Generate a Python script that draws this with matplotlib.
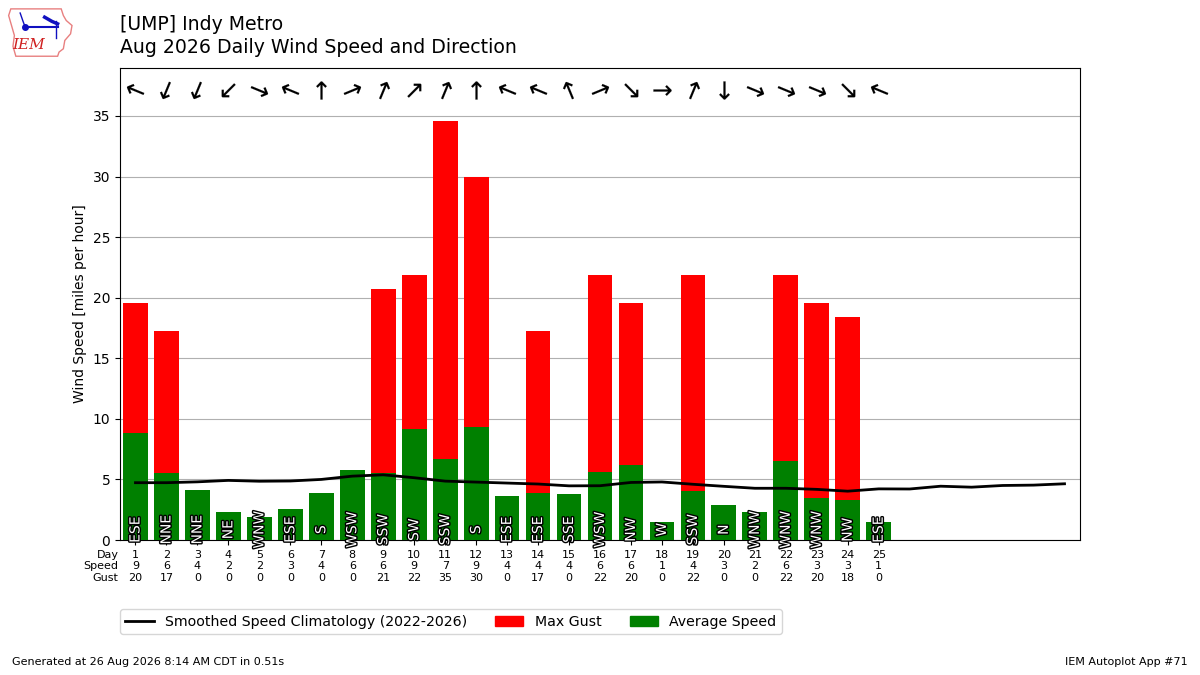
import matplotlib
matplotlib.use("Agg")
import matplotlib.pyplot as plt
import matplotlib.patheffects as pe
from matplotlib.lines import Line2D
from matplotlib.patches import Patch, Polygon
from matplotlib.markers import MarkerStyle
from matplotlib.transforms import Affine2D
import numpy as np

days = list(range(1, 26))
avg_speed = [8.8, 5.5, 4.1, 2.3, 1.9, 2.6, 3.9, 5.8, 5.55, 9.15, 6.7, 9.3, 3.6,
             3.85, 3.8, 5.65, 6.15, 1.5, 4.05, 2.9, 2.3, 6.5, 3.45, 3.3, 1.5]
max_gust = [19.55, 17.25, 0, 0, 0, 0, 0, 0, 20.7, 21.9, 34.6, 29.95, 0,
            17.25, 0, 21.9, 19.55, 0, 21.9, 0, 0, 21.9, 19.55, 18.4, 0]
directions = ["ESE", "NNE", "NNE", "NE", "WNW", "ESE", "S", "WSW", "SSW", "SW",
              "SSW", "S", "ESE", "ESE", "SSE", "WSW", "NW", "W", "SSW", "N",
              "WNW", "WNW", "WNW", "NW", "ESE"]
speed_labels = ["9", "6", "4", "2", "2", "3", "4", "6", "6", "9", "7", "9", "4",
                "4", "4", "6", "6", "1", "4", "3", "2", "6", "3", "3", "1"]
gust_labels = ["20", "17", "0", "0", "0", "0", "0", "0", "21", "22", "35", "30",
               "0", "17", "0", "22", "20", "0", "22", "0", "0", "22", "20", "18", "0"]
clim_days = list(range(1, 32))
clim_speed = [4.73, 4.73, 4.8, 4.92, 4.85, 4.87, 5.0, 5.27, 5.38, 5.14, 4.86,
              4.78, 4.7, 4.62, 4.47, 4.48, 4.75, 4.79, 4.6, 4.43, 4.27, 4.27,
              4.18, 4.03, 4.22, 4.21, 4.44, 4.36, 4.5, 4.53, 4.64]

compass = ["N", "NNE", "NE", "ENE", "E", "ESE", "SE", "SSE", "S", "SSW", "SW",
           "WSW", "W", "WNW", "NW", "NNW"]

fig = plt.figure(figsize=(12, 6.75), dpi=100)
ax = fig.add_axes([0.1, 0.2, 0.8, 0.7])

ax.bar(days, max_gust, width=0.8, color="r", zorder=2)
ax.bar(days, avg_speed, width=0.8, color="g", zorder=3)
ax.plot(clim_days, clim_speed, color="k", lw=2, zorder=4)

for d, lab in zip(days, directions):
    ax.text(d, 0.85, lab, rotation=90, ha="center", va="center", color="white",
            fontsize=10, zorder=5,
            path_effects=[pe.withStroke(linewidth=2, foreground="k")])
    deg = compass.index(lab) * 22.5
    m = MarkerStyle("$\u2191$", transform=Affine2D().rotate_deg(-(deg + 180) % 360))
    ax.plot([d], [37.15], marker=m, color="k", ms=13, mew=0.1, ls="none", zorder=5)

ax.set_xlim(0.5, 31.5)
ax.set_ylim(0, 39)
ax.set_yticks(range(0, 36, 5))
ax.yaxis.grid(True, color="#b0b0b0", zorder=0)
ax.set_axisbelow(True)
ax.set_xticks(days)
ax.set_xticklabels([f"{d}\n{s}\n{g}" for d, s, g in zip(days, speed_labels, gust_labels)],
                   fontsize=8)
ax.annotate("Day\nSpeed\nGust", xy=(0, 0), xycoords="axes fraction",
            xytext=(-1, -7), textcoords="offset points", ha="right", va="top",
            fontsize=8)
ax.set_ylabel("Wind Speed [miles per hour]", fontsize=10)

fig.text(0.1, 0.963, "[UMP] Indy Metro", fontsize=13.6, va="center")
fig.text(0.1, 0.929, "Aug 2026 Daily Wind Speed and Direction", fontsize=13.6, va="center")

handles = [Line2D([], [], color="k", lw=2),
           Patch(color="r"), Patch(color="g")]
fig.legend(handles, ["Smoothed Speed Climatology (2022-2026)", "Max Gust", "Average Speed"],
           loc="center left", bbox_to_anchor=(0.094, 0.079), ncol=3, fontsize=10.15)

fig.text(0.01, 0.015, "Generated at 26 Aug 2026 8:14 AM CDT in 0.51s", fontsize=8)
fig.text(0.99, 0.015, "IEM Autoplot App #71", fontsize=8, ha="right")

# logo
lax = fig.add_axes([0.006, 0.913, 0.06, 0.08])
lax.set_xlim(0, 100)
lax.set_ylim(0, 65)
lax.axis("off")
outline = [(5, 60), (75, 60), (78, 52), (82, 46), (90, 40), (88, 30), (80, 22),
           (78, 12), (72, 8), (70, 3), (12, 3), (8, 15), (10, 28), (6, 40),
           (2, 52)]
lax.add_patch(Polygon(outline, closed=True, fill=False, edgecolor="#e88080", lw=1))
lax.text(30, 17, "IEM", color="#d02020", fontsize=11, family="DejaVu Serif",
         style="italic", ha="center", va="center")
lax.plot([25, 70], [38, 38], color="#1010c0", lw=1.5)
lax.plot([25], [38], "o", color="#1010c0", ms=4)
lax.plot([18, 22, 25], [55, 45, 38], color="#1010c0", lw=1)
lax.plot([52, 62, 70], [50, 45, 42], color="#1010c0", lw=2.5)
lax.plot([68, 68], [45, 25], color="#1010c0", lw=1)

fig.savefig("out.png", dpi=100)
